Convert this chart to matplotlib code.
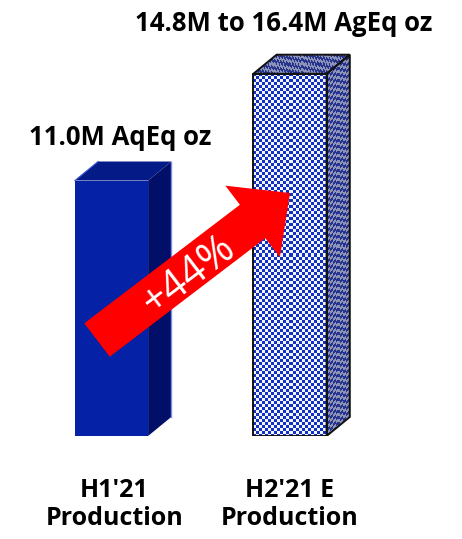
import numpy as np
import matplotlib
matplotlib.use("Agg")
import matplotlib.pyplot as plt
from matplotlib.patches import Polygon, FancyArrow
from matplotlib.colors import ListedColormap
from matplotlib import transforms

# --- data -------------------------------------------------------------
categories = ["H1'21\nProduction", "H2'21 E\nProduction"]
values = [11.0, 15.6]              # M AgEq oz (H2 shown at guidance midpoint)
guidance_low, guidance_high = 14.8, 16.4
value_labels = ["11.0M AqEq oz", f"{guidance_low}M to {guidance_high}M AgEq oz"]
growth_label = "+44%"

# --- layout -----------------------------------------------------------
W, H, DPI = 462, 539, 100
fig = plt.figure(figsize=(W / DPI, H / DPI), dpi=DPI)
ax = fig.add_axes([0, 103 / H, 1, 418 / H])
ax.set_xlim(-111.5 / 178.5, (W - 111.5) / 178.5)
ax.set_ylim(0, 18)
for s in ax.spines.values():
    s.set_visible(False)
ax.set_yticks([])

FONT = "Open Sans"
BAR_W = 0.41
DX, DY = 0.13, 0.82          # depth offset of the 3-D boxes (data units)


def checker(h, w, cell=3):
    yy, xx = np.mgrid[0:h, 0:w]
    return ((yy // cell + xx // cell) % 2).astype(float)


def sheared(h, w, cell=3, slope=0.8):
    yy, xx = np.mgrid[0:h, 0:w]
    return ((np.floor((yy + xx * slope) / cell) + xx // cell) % 2).astype(float)


cm_front = ListedColormap(["#1230c2", "#f4f6ff"])
cm_side = ListedColormap(["#27348e", "#8d93b6"])

# Bar 1: solid blue box
x0, v0 = 0, values[0]
front = ax.bar(x0, v0, width=BAR_W, color="#0522a6", zorder=2)[0]
l, r = x0 - BAR_W / 2, x0 + BAR_W / 2
ax.add_patch(Polygon([(r, 0), (r + DX, DY), (r + DX, v0 + DY), (r, v0)],
                     closed=True, facecolor="#020f68", edgecolor="none", zorder=2))
ax.plot([r + DX, r + DX], [DY, v0 + DY], color="#7d8ae6", lw=1.0, zorder=3)
ax.add_patch(Polygon([(l, v0), (l + DX, v0 + DY), (r + DX, v0 + DY), (r, v0)],
                     closed=True, facecolor="#041a86", edgecolor="none", zorder=2))
ax.plot([l, l + DX], [v0, v0 + DY], color="#3d55d8", lw=0.8, zorder=3)

# Bar 2: checkered box with outline
x1, v1 = 1, values[1]
l, r = x1 - BAR_W / 2, x1 + BAR_W / 2
front2 = ax.bar(x1, v1, width=BAR_W, color="none", edgecolor="#111111", lw=1.4, zorder=4)[0]
img = ax.imshow(checker(362, 73), cmap=cm_front, extent=(l, r, 0, v1),
                interpolation="nearest", aspect="auto", zorder=2)
img.set_clip_path(front2)
side = Polygon([(r, 0), (r + DX, DY), (r + DX, v1 + DY), (r, v1)], closed=True,
               facecolor="none", edgecolor="#111111", lw=1.4, zorder=4)
top = Polygon([(l, v1), (l + DX, v1 + DY), (r + DX, v1 + DY), (r, v1)], closed=True,
              facecolor="none", edgecolor="#111111", lw=1.4, zorder=4)
ax.add_patch(side)
ax.add_patch(top)
img_s = ax.imshow(sheared(381, 23), cmap=cm_side, extent=(r, r + DX, 0, v1 + DY),
                  interpolation="nearest", aspect="auto", zorder=2)
img_s.set_clip_path(side)
img_t = ax.imshow(sheared(19, 96, slope=-1.2), cmap=cm_side, extent=(l, r + DX, v1, v1 + DY),
                  interpolation="nearest", aspect="auto", zorder=2)
img_t.set_clip_path(top)

# value labels above the boxes
ax.annotate(value_labels[0], xy=(x0, v0), xytext=(8.5, 36), textcoords="offset pixels",
            ha="center", va="baseline", fontsize=18.5, fontweight="bold", family=FONT)
ax.annotate(value_labels[1], xy=(x1, v1), xytext=(-6.5, 43), textcoords="offset pixels",
            ha="center", va="baseline", fontsize=18.5, fontweight="bold", family=FONT)

# category labels
ax.set_xticks([x0, x1])
ax.set_xticklabels(categories, fontsize=18, fontweight="bold", family=FONT, linespacing=1.2)
ax.tick_params(axis="x", length=0, pad=30)
for t, shift in zip(ax.get_xticklabels(), [3, 0]):
    t.set_multialignment("center")
    t.set_transform(t.get_transform() + transforms.Affine2D().translate(shift, 0))

# growth arrow (drawn in pixel space)
ident = transforms.IdentityTransform()
tail = np.array([97.0, H - 340.0])
tip = np.array([290.0, H - 193.0])
d = tip - tail
arrow = FancyArrow(tail[0], tail[1], d[0], d[1], width=42, head_width=90, head_length=47,
                   length_includes_head=True, color="#ff0000", lw=0,
                   transform=ident, zorder=6)
fig.patches.append(arrow)
ang = np.degrees(np.arctan2(d[1], d[0]))
fig.text(189 / W, 1 - 275 / H, growth_label, rotation=ang, rotation_mode="anchor",
         ha="center", va="center", color="white", fontsize=30, family=FONT, zorder=7)

fig.savefig("out.png", dpi=DPI, facecolor="white")
